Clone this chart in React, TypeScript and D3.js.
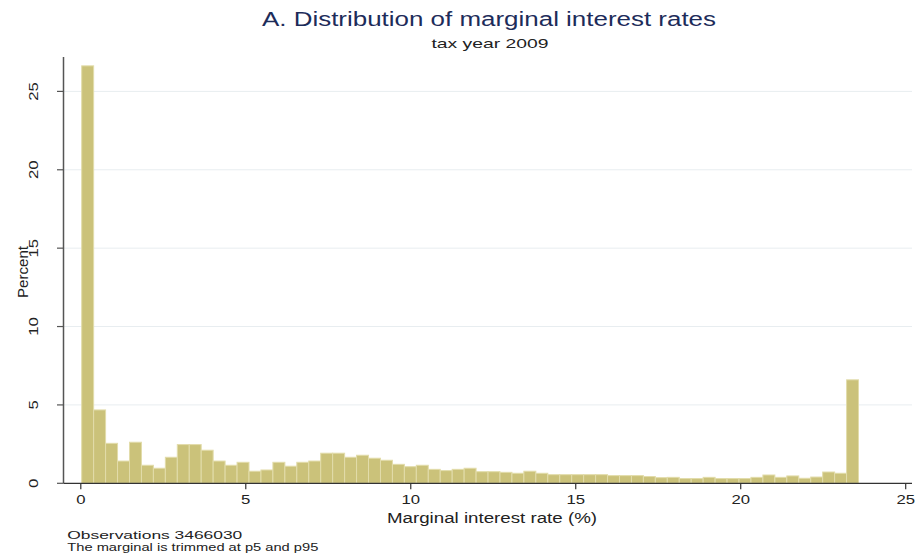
import React from "react";
import * as d3 from "d3";

// ---- data ----
const binStart = 0.027;
const binWidth = 0.3622;
const percents: number[] = [
  26.63, 4.68, 2.55, 1.42, 2.62, 1.15, 0.96, 1.66, 2.47, 2.47,
  2.11, 1.42, 1.15, 1.34, 0.77, 0.85, 1.34, 1.09, 1.34, 1.42,
  1.92, 1.92, 1.66, 1.79, 1.6, 1.47, 1.21, 1.06, 1.15, 0.89,
  0.81, 0.89, 0.96, 0.74, 0.74, 0.7, 0.64, 0.77, 0.64, 0.55,
  0.55, 0.55, 0.55, 0.55, 0.49, 0.49, 0.49, 0.43, 0.36, 0.38,
  0.3, 0.3, 0.38, 0.3, 0.3, 0.3, 0.38, 0.53, 0.38, 0.47,
  0.32, 0.4, 0.72, 0.64, 6.6,
];
const xTicks = [0, 5, 10, 15, 20, 25];
const yTicks = [0, 5, 10, 15, 20, 25];
const titleText = "A. Distribution of marginal interest rates";
const subtitleText = "tax year 2009";
const xTitle = "Marginal interest rate (%)";
const yTitle = "Percent";
const notes = ["Observations 3466030", "The marginal is trimmed at p5 and p95"];

const FONT = "'Liberation Sans', Arial, Helvetica, sans-serif";

export default function App() {
  const W = 920;
  const H = 559;
  const plotLeft = 63.5;
  const plotRight = 912;
  const plotTop = 57;
  const x = d3.scaleLinear().domain([0, 25]).range([80.8, 905.7]);
  const y = d3.scaleLinear().domain([0, 25]).range([483.3, 91.4]);

  const bars = percents.map((p, i) => {
    const x0 = binStart + i * binWidth;
    return { x0, x1: x0 + binWidth, p };
  });

  return (
    <svg
      width={W}
      height={H}
      viewBox={`0 0 ${W} ${H}`}
      style={{ position: "absolute", left: 0, top: 0, background: "#ffffff" }}
      fontFamily={FONT}
    >
      <rect x={0} y={0} width={W} height={H} fill="#ffffff" />
      {/* gridlines */}
      {yTicks
        .filter((t) => t > 0)
        .map((t) => (
          <line
            key={"g" + t}
            x1={plotLeft}
            x2={plotRight}
            y1={y(t)}
            y2={y(t)}
            stroke="#e8edf0"
            strokeWidth={1}
          />
        ))}
      {/* bars */}
      {bars.map((b, i) => (
        <rect
          key={i}
          x={x(b.x0)}
          y={y(b.p)}
          width={x(b.x1) - x(b.x0)}
          height={y(0) - y(b.p)}
          fill="#cbc27a"
          stroke="#e2dcaa"
          strokeWidth={1}
        />
      ))}
      {/* axes */}
      <line x1={plotLeft} x2={plotLeft} y1={plotTop} y2={y(0)} stroke="#555" strokeWidth={1.5} />
      <line x1={plotLeft} x2={plotRight} y1={y(0)} y2={y(0)} stroke="#333" strokeWidth={1.3} />
      {yTicks.map((t) => (
        <g key={"yt" + t}>
          <line x1={plotLeft - 6.5} x2={plotLeft} y1={y(t)} y2={y(t)} stroke="#555" strokeWidth={1.2} />
          <text
            transform={`translate(38,${y(t)}) rotate(-90)`}
            textAnchor="middle"
            fontSize={13}
            fill="#222"
            textLength={String(t).length * 9.3}
            lengthAdjust="spacingAndGlyphs"
          >
            {t}
          </text>
        </g>
      ))}
      {xTicks.map((t) => (
        <g key={"xt" + t}>
          <line x1={x(t)} x2={x(t)} y1={y(0)} y2={y(0) + 6} stroke="#333" strokeWidth={1.2} />
          <text
            x={x(t)}
            y={504}
            textAnchor="middle"
            fontSize={13}
            fill="#222"
            textLength={String(t).length * 9.3}
            lengthAdjust="spacingAndGlyphs"
          >
            {t}
          </text>
        </g>
      ))}
      {/* axis titles */}
      <text
        x={492}
        y={523}
        textAnchor="middle"
        fontSize={14}
        fill="#222"
        textLength={210}
        lengthAdjust="spacingAndGlyphs"
      >
        {xTitle}
      </text>
      <text
        transform={`translate(27.5,${272}) rotate(-90)`}
        textAnchor="middle"
        fontSize={15.5}
        fill="#222"
        textLength={52}
        lengthAdjust="spacingAndGlyphs"
      >
        {yTitle}
      </text>
      {/* titles */}
      <text
        x={489}
        y={26}
        textAnchor="middle"
        fontSize={20}
        fill="#1d2c5a"
        textLength={454}
        lengthAdjust="spacingAndGlyphs"
      >
        {titleText}
      </text>
      <text
        x={490}
        y={48}
        textAnchor="middle"
        fontSize={13}
        fill="#222"
        textLength={117}
        lengthAdjust="spacingAndGlyphs"
      >
        {subtitleText}
      </text>
      {/* notes */}
      <text x={67.3} y={539} fontSize={11} fill="#222" textLength={175} lengthAdjust="spacingAndGlyphs">
        {notes[0]}
      </text>
      <text x={67.3} y={551} fontSize={11} fill="#222" textLength={251} lengthAdjust="spacingAndGlyphs">
        {notes[1]}
      </text>
    </svg>
  );
}
